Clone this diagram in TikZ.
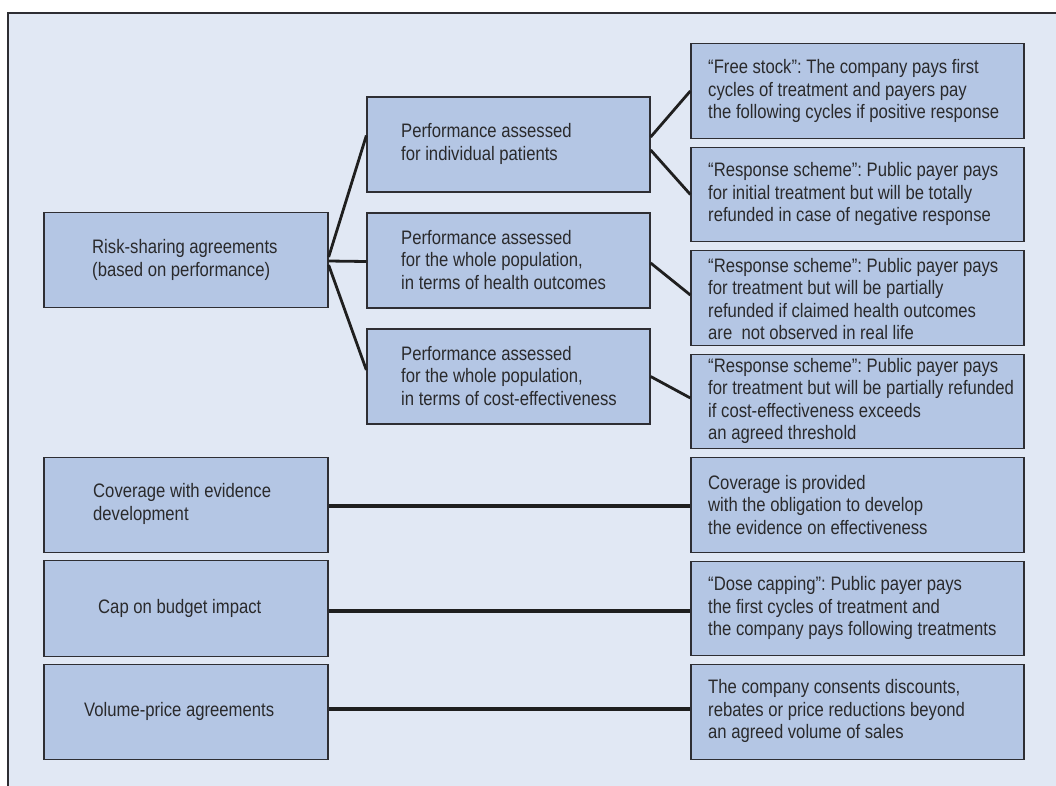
\documentclass[tikz,border=0pt]{standalone}
\usepackage{fontspec}
\newfontfamily\cf{Liberation Sans}[FakeStretch=0.855]
\frenchspacing
\definecolor{bgc}{HTML}{E1E8F4}
\definecolor{boxc}{HTML}{B4C6E4}
\definecolor{edgec}{HTML}{2E2E33}
\definecolor{txtc}{HTML}{2A2A2C}
\tikzset{
  boxnode/.style={draw=edgec, line width=1.3pt, fill=boxc, inner sep=0pt, minimum width=#1},
  leftbox/.style={boxnode=284pt, minimum height=95.5pt},
  midbox/.style={boxnode=283pt, minimum height=95pt},
  rightbox/.style={boxnode=333pt, minimum height=94.5pt},
  lbl/.style={inner sep=0pt, align=left, anchor=west, text=txtc, font=\cf\fontsize{19.5}{22.5}\selectfont},
  conn/.style={draw=black!88, line width=2.8pt},
  hconn/.style={draw=black!88, line width=3.2pt}
}
\begin{document}
\begin{tikzpicture}[x=1pt,y=-1pt]
\useasboundingbox (0,0) rectangle (1056,785);
\fill[white] (0,0) rectangle (1056,785);
\fill[bgc] (8,13) rectangle (1060,790);
\draw[edgec, line width=2pt] (8,790) -- (8,13) -- (1060,13);

% left column
\node[leftbox] (rs) at (186,260) {};
\node[leftbox] (ce) at (186,505) {};
\node[leftbox] (cb) at (186,608.5) {};
\node[leftbox] (vp) at (186,712) {};
% middle column
\node[midbox] (pi) at (508.5,144.5) {};
\node[midbox] (ph) at (508.5,260.5) {};
\node[midbox] (pc) at (508.5,376.5) {};
% right column
\node[rightbox] (fs) at (857.5,91) {};
\node[rightbox] (r1) at (857.5,194.5) {};
\node[rightbox] (r2) at (857.5,298) {};
\node[rightbox] (r3) at (857.5,401.5) {};
\node[rightbox] (cp) at (857.5,505) {};
\node[rightbox] (dc) at (857.5,608.5) {};
\node[rightbox] (cd) at (857.5,712) {};

% texts
\node[lbl] (rs-t) at (92,260) {Risk-sharing agreements\\(based on performance)};
\node[lbl] (ce-t) at (93,504) {Coverage with evidence\\development};
\node[lbl] (cb-t) at (98,608) {Cap on budget impact};
\node[lbl] (vp-t) at (84,711) {Volume-price agreements};

\node[lbl] (pi-t) at (401,144) {Performance assessed\\for individual patients};
\node[lbl] (ph-t) at (401,260) {Performance assessed\\for the whole population,\\in terms of health outcomes};
\node[lbl] (pc-t) at (401,376) {Performance assessed\\for the whole population,\\in terms of cost-effectiveness};

\node[lbl] (fs-t) at (708,91) {“Free stock”: The company pays first\\cycles of treatment and payers pay\\the following cycles if positive response};
\node[lbl] (r1-t) at (708,194) {“Response scheme”: Public payer pays\\for initial treatment but will be totally\\refunded in case of negative response};
\node[lbl] (r2-t) at (708,299) {“Response scheme”: Public payer pays\\for treatment but will be partially\\refunded if claimed health outcomes\\are\ \ not observed in real life};
\node[lbl] (r3-t) at (708,401) {“Response scheme”: Public payer pays\\for treatment but will be partially refunded\\if cost-effectiveness exceeds\\an agreed threshold};
\node[lbl] (cp-t) at (708,505) {Coverage is provided\\with the obligation to develop\\the evidence on effectiveness};
\node[lbl] (dc-t) at (708,608) {“Dose capping”: Public payer pays\\the first cycles of treatment and\\the company pays following treatments};
\node[lbl] (cd-t) at (708,711) {The company consents discounts,\\rebates or price reductions beyond\\an agreed volume of sales};

% connectors
\draw[conn] ([yshift=3pt]rs.east) -- ([yshift=9pt]pi.west);
\draw[conn] ([yshift=-1pt]rs.east) -- ([yshift=-1pt]ph.west);
\draw[conn] ([yshift=-5pt]rs.east) -- ([yshift=6.5pt]pc.west);
\draw[conn] ([yshift=7.5pt]pi.east) -- (fs.west);
\draw[conn] ([yshift=-5.5pt]pi.east) -- (r1.west);
\draw[conn] ([yshift=-2.5pt]ph.east) -- ([yshift=3pt]r2.west);
\draw[conn] (pc.east) -- ([yshift=3.5pt]r3.west);
\draw[hconn] ([yshift=-1pt]ce.east) -- ([yshift=-1pt]cp.west);
\draw[hconn] ([yshift=-2.5pt]cb.east) -- ([yshift=-2.5pt]dc.west);
\draw[hconn] ([yshift=3pt]vp.east) -- ([yshift=3pt]cd.west);
\end{tikzpicture}
\end{document}
